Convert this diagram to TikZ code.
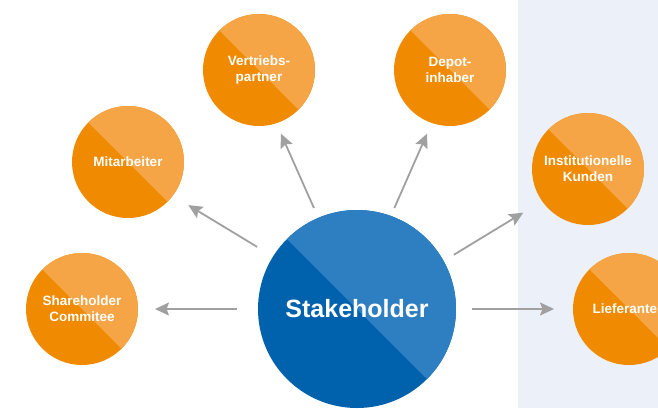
\documentclass[tikz,border=0pt]{standalone}
\usepackage{fontspec}
\setmainfont{Liberation Sans}
\usetikzlibrary{arrows.meta}

\definecolor{orangeDark}{HTML}{F08A00}
\definecolor{orangeLight}{HTML}{F5A545}
\definecolor{blueDark}{HTML}{0062AD}
\definecolor{blueLight}{HTML}{2E7EC2}
\definecolor{panelBlue}{HTML}{EBF0F9}
\definecolor{arrowGray}{HTML}{A0A0A0}

\tikzset{
  splitdisc/.style 2 args={
    circle, inner sep=0pt, outer sep=0pt, fill=#1,
    text=white, font=\bfseries, align=center,
    path picture={
      \fill[#2] (path picture bounding box.north west)
        -- (path picture bounding box.north east)
        -- (path picture bounding box.south east) -- cycle;
    }
  },
  group/.style={splitdisc={orangeDark}{orangeLight}, minimum size=112pt,
    font=\bfseries\fontsize{13.5}{16}\selectfont},
  hub/.style={splitdisc={blueDark}{blueLight}, minimum size=198pt,
    font=\bfseries\fontsize{25}{30}\selectfont},
  link/.style={draw=arrowGray, line width=1.8pt,
    -{Stealth[length=14pt, width=13pt, inset=2.5pt]}}
}

\begin{document}
\begin{tikzpicture}[x=1pt, y=-1pt]
  \useasboundingbox (0,0) rectangle (658,408);
  \clip (0,0) rectangle (658,408);

  % light panel on the right
  \fill[panelBlue] (518,0) rectangle (658,408);

  % central stakeholder disc
  \node[hub] (stake) at (357,309) {Stakeholder};

  % stakeholder groups
  \node[group] (share) at (82,309)  {Shareholder\\Commitee};
  \node[group] (mit)   at (128,162) {Mitarbeiter};
  \node[group] (vert)  at (259,70)  {Vertriebs-\\partner};
  \node[group] (depot) at (450,70)  {Depot-\\inhaber};
  \node[group] (inst)  at (588,169) {Institutionelle\\Kunden};
  \node[group] (lief)  at (629,309) {Lieferanten};

  % arrows from the hub to each group
  \draw[link, shorten <=21pt, shorten >=17pt] (stake.180) -- (share.0);
  \draw[link, shorten <=18.6pt, shorten >=18.2pt] (stake.148) -- (mit.-37);
  \draw[link, shorten <=10.8pt, shorten >=11.4pt] (stake.113) -- (vert.-72);
  \draw[link, shorten <=8.6pt, shorten >=11.7pt] (stake.70) -- (depot.-109);
  \draw[link, shorten <=12pt, shorten >=22.2pt] (stake.29) -- (inst.-145);
  \draw[link, shorten <=16pt, shorten >=19pt] (stake.0) -- (lief.180);
\end{tikzpicture}
\end{document}
